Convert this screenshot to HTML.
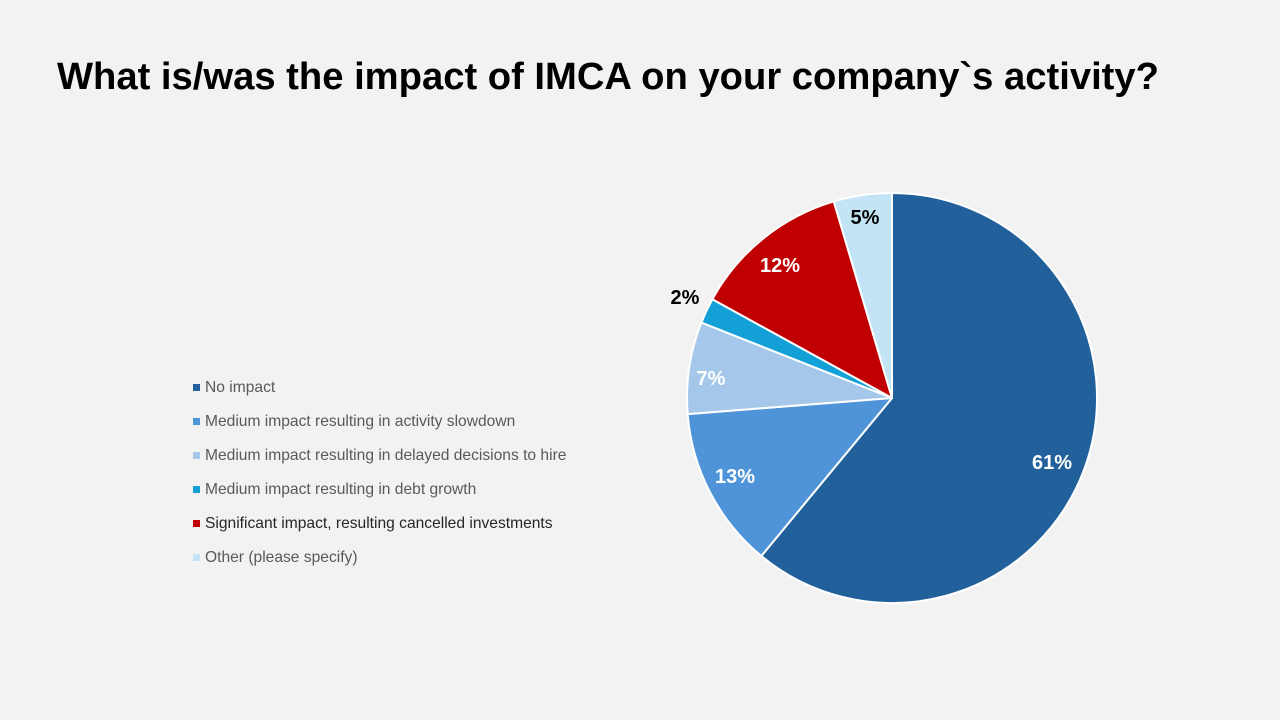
<!DOCTYPE html>
<html><head><meta charset="utf-8"><style>
body{margin:0;width:1280px;height:720px;background:#F2F2F2;font-family:"Liberation Sans",sans-serif;overflow:hidden;position:relative}
h1{position:absolute;left:57px;top:55px;margin:0;font-size:38.2px;font-weight:bold;color:#000;white-space:nowrap}
.leg{position:absolute;left:193px;font-size:15.6px;color:#595959;white-space:nowrap}
.leg i{display:inline-block;width:7px;height:7px;margin-right:5px;vertical-align:1px}
</style></head><body>
<h1>What is/was the impact of IMCA on your company`s activity?</h1>
<div class="leg" style="top:379px"><i style="background:#21609B"></i>No impact</div>
<div class="leg" style="top:413px"><i style="background:#4F94D8"></i>Medium impact resulting in activity slowdown</div>
<div class="leg" style="top:447px"><i style="background:#A5C8EA"></i>Medium impact resulting in delayed decisions to hire</div>
<div class="leg" style="top:481px"><i style="background:#13A0D6"></i>Medium impact resulting in debt growth</div>
<div class="leg" style="top:515px;color:#262626"><i style="background:#C00000"></i>Significant impact, resulting cancelled investments</div>
<div class="leg" style="top:549px"><i style="background:#C2E4F5"></i>Other (please specify)</div>
<svg width="1280" height="720" style="position:absolute;left:0;top:0">
<g stroke="#fff" stroke-width="2" stroke-linejoin="round">
<path d="M892,398 L892,193 A205,205 0 1 1 761.33,555.95 Z" fill="#21609B"/>
<path d="M892,398 L761.33,555.95 A205,205 0 0 1 687.63,414.08 Z" fill="#4F94D8"/>
<path d="M892,398 L687.63,414.08 A205,205 0 0 1 701.39,322.54 Z" fill="#A5C8EA"/>
<path d="M892,398 L701.39,322.54 A205,205 0 0 1 712.36,299.24 Z" fill="#13A0D6"/>
<path d="M892,398 L712.36,299.24 A205,205 0 0 1 833.78,201.45 Z" fill="#C00000"/>
<path d="M892,398 L833.78,201.45 A205,205 0 0 1 892,193 Z" fill="#C2E4F5"/>
</g>
<g font-family="Liberation Sans,sans-serif" font-weight="bold" font-size="20" text-anchor="middle">
<text x="1052" y="469" fill="#fff">61%</text>
<text x="735" y="483" fill="#fff">13%</text>
<text x="711" y="385" fill="#fff">7%</text>
<text x="685" y="304" fill="#000">2%</text>
<text x="780" y="272" fill="#fff">12%</text>
<text x="865" y="224" fill="#000">5%</text>
</g>
</svg>
</body></html>
